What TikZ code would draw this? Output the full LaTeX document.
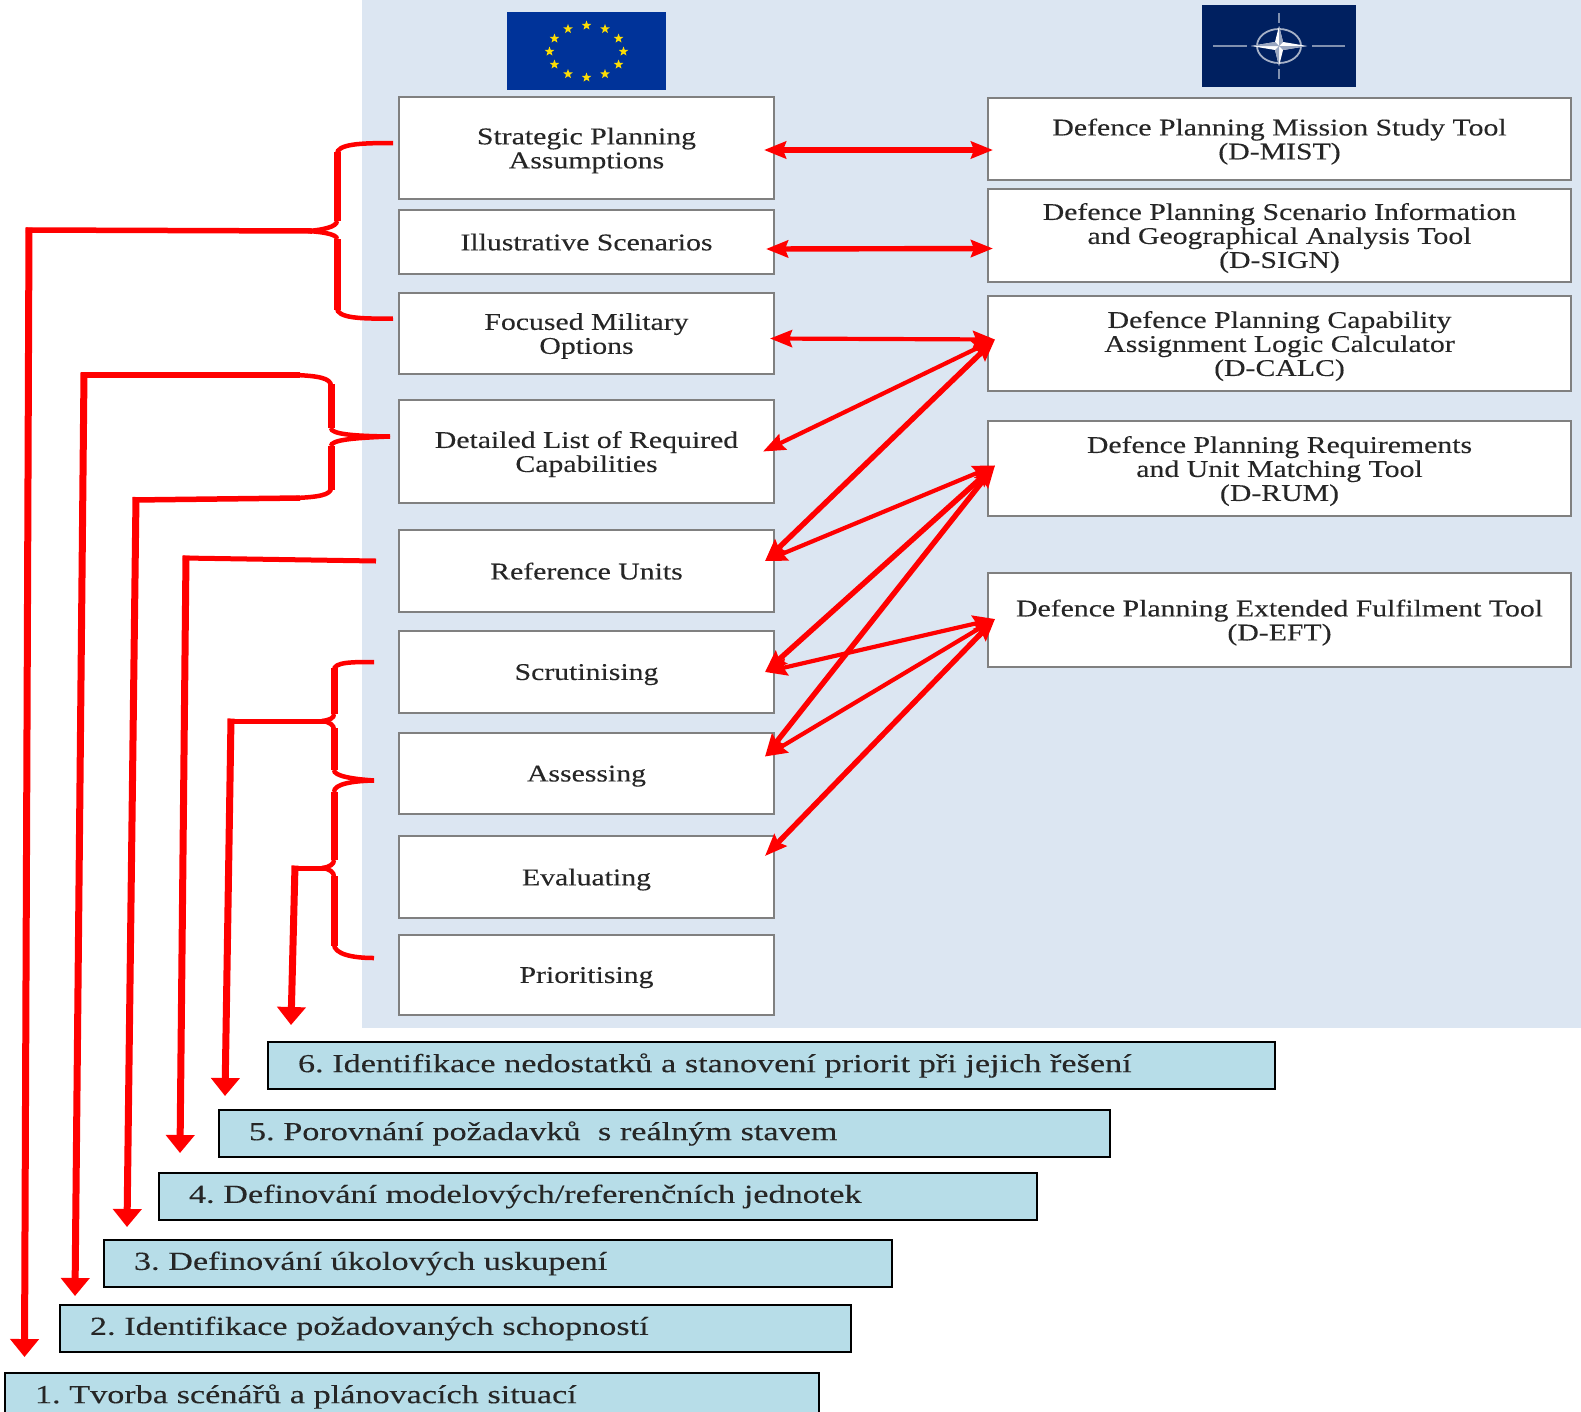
\documentclass[tikz,border=0pt]{standalone}
\usepackage{fontspec}
\setmainfont[FakeStretch=1.24,FakeBold=0.2]{Liberation Serif}
\newfontfamily\barfont[FakeStretch=1.315,FakeBold=0.2]{Liberation Serif}
\usetikzlibrary{positioning, arrows.meta, shapes.geometric}
\definecolor{planbg}{HTML}{DCE6F2}
\definecolor{stagefill}{HTML}{B7DDE8}
\definecolor{euflag}{HTML}{003399}
\definecolor{natoflag}{HTML}{002060}
\definecolor{textgrey}{HTML}{262626}
\begin{document}
\frenchspacing
\begin{tikzpicture}
		[
		x=1pt, y=-1pt,
		font=\fontsize{24}{24}\selectfont,
		text=textgrey,
		block/.style ={rectangle, draw=black!50, fill=white, line width=1.8pt, outer sep=0pt, inner sep=0pt, text depth=0pt, minimum width=375pt, align=center},
		tool/.style ={rectangle, draw=black!50, fill=white, line width=1.8pt, outer sep=0pt, inner sep=0pt, text depth=0pt, minimum width=583pt, align=center},
		stagebar/.style ={rectangle, draw=black, fill=stagefill, line width=1.5pt, outer sep=0pt, inner sep=0pt, anchor=north west, minimum height=47pt, align=left, font=\barfont\fontsize{26}{26}\selectfont},
		both/.style ={{Stealth[length=22pt, width=17pt, inset=3pt]}-{Stealth[length=22pt, width=17pt, inset=3pt]}, red, line width=4.2pt},
		bothw/.style ={both, line width=5.4pt},
		brace/.style ={red, line width=4.5pt},
		stem/.style ={red, line width=7pt},
		lead/.style ={-{Triangle[length=18pt, width=28pt]}, red, line width=7pt}
		]
		\clip (0,0) rectangle (1581,1411);
		\fill[planbg] (362,0) rectangle (1581,1028);
		% flags
		\fill[euflag] (507,12) rectangle (666,90);
		\foreach \a in {0,30,...,330}
			\node[star, star points=5, star point ratio=2.4, fill=yellow!80!orange, inner sep=0pt, minimum size=10pt] at ({586.5+37*cos(\a)},{51.5+26*sin(\a)}) {};
		\fill[natoflag] (1202,5) rectangle (1356,87);
		\draw[white!50!natoflag, line width=2pt] (1213,46) -- (1247,46) (1312,46) -- (1345,46) (1279,13) -- (1279,23) (1279,69) -- (1279,79);
		\draw[white!65!natoflag, line width=1.8pt] (1279,46) ellipse [x radius=22, y radius=17];
		\fill[white] (1279,26) -- (1283,42) -- (1307,46) -- (1283,50) -- (1279,66) -- (1275,50) -- (1251,46) -- (1275,42) -- cycle;
		\fill[white!60!natoflag] (1279,46) -- (1279,26) -- (1283,42) -- cycle (1279,46) -- (1307,46) -- (1283,50) -- cycle (1279,46) -- (1279,66) -- (1275,50) -- cycle (1279,46) -- (1251,46) -- (1275,42) -- cycle;
		% left column
		\node (spa) [block, minimum height=102pt] at (586.5,148) {Strategic Planning\\Assumptions};
		\node[below=11pt of spa] (scen) [block, minimum height=64pt] {Illustrative Scenarios};
		\node[below=19pt of scen] (fmo) [block, minimum height=81pt] {Focused Military\\Options};
		\node[below=26pt of fmo] (dlrc) [block, minimum height=103pt] {Detailed List of Required\\Capabilities};
		\node[below=27pt of dlrc] (units) [block, minimum height=82pt] {Reference Units};
		\node[below=19pt of units] (scrut) [block, minimum height=82pt] {Scrutinising};
		\node[below=20pt of scrut] (assess) [block, minimum height=81pt] {Assessing};
		\node[below=22pt of assess] (eval) [block, minimum height=82pt] {Evaluating};
		\node[below=17pt of eval] (prio) [block, minimum height=80pt] {Prioritising};
		% right column
		\node (mist) [tool, minimum height=82pt] at (1279.5,139) {Defence Planning Mission Study Tool\\(D-MIST)};
		\node[below=9pt of mist] (sign) [tool, minimum height=93pt] {Defence Planning Scenario Information\\and Geographical Analysis Tool\\(D-SIGN)};
		\node[below=14pt of sign] (calc) [tool, minimum height=95pt] {Defence Planning Capability\\Assignment Logic Calculator\\(D-CALC)};
		\node[below=30pt of calc] (rum) [tool, minimum height=95pt] {Defence Planning Requirements\\and Unit Matching Tool\\(D-RUM)};
		\node[below=57pt of rum] (eft) [tool, minimum height=94pt] {Defence Planning Extended Fulfilment Tool\\(D-EFT)};
		% stages
		\node (s6) [stagebar, text width=1007pt] at (268,1042) {\hspace*{30pt}6. Identifikace nedostatků a stanovení priorit při jejich řešení};
		\node (s5) [stagebar, text width=891pt] at (219,1110) {\hspace*{30pt}5. Porovnání požadavků\ \ s reálným stavem};
		\node (s4) [stagebar, text width=878pt] at (159,1173) {\hspace*{30pt}4. Definování modelových/referenčních jednotek};
		\node (s3) [stagebar, text width=788pt] at (104,1240) {\hspace*{30pt}3. Definování úkolových uskupení};
		\node (s2) [stagebar, text width=791pt] at (60,1305) {\hspace*{30pt}2. Identifikace požadovaných schopností};
		\node (s1) [stagebar, text width=814pt] at (5,1373) {\hspace*{30pt}1. Tvorba scénářů a plánovacích situací};
		% tips of the arrows
		\coordinate (spa e) at ([xshift=-10pt,yshift=-2pt]spa.east);
		\coordinate (mist w) at ([xshift=5pt,yshift=-11pt]mist.west);
		\coordinate (scen e) at ([xshift=-8pt,yshift=-7pt]scen.east);
		\coordinate (sign w) at ([xshift=5pt,yshift=-13pt]sign.west);
		\coordinate (fmo e) at ([xshift=-4pt,yshift=-5pt]fmo.east);
		\coordinate (dlrc e) at ([xshift=-11pt,yshift=0pt]dlrc.east);
		\coordinate (units e) at ([xshift=-9pt,yshift=10pt]units.east);
		\coordinate (scrut e) at ([xshift=-9pt,yshift=0pt]scrut.east);
		\coordinate (assess e) at ([xshift=-9pt,yshift=17pt]assess.east);
		\coordinate (eval e) at ([xshift=-9pt,yshift=21pt]eval.east);
		\coordinate (calc w) at ([xshift=7pt,yshift=4pt]calc.west);
		\coordinate (rum w) at ([xshift=7pt,yshift=3pt]rum.west);
		\coordinate (eft w) at ([xshift=7pt,yshift=1pt]eft.west);
		\draw[bothw] (spa e) -- (mist w);
		\draw[bothw] (scen e) -- (sign w);
		\draw[both] (fmo e) -- (calc w);
		\draw[both] (dlrc e) -- (calc w);
		\draw[bothw] (units e) -- (calc w);
		\draw[both] (units e) -- (rum w);
		\draw[bothw] (scrut e) -- (rum w);
		\draw[both] (scrut e) -- (eft w);
		\draw[bothw] (assess e) -- (rum w);
		\draw[both] (assess e) -- (eft w);
		\draw[bothw] (eval e) -- (eft w);
		% free ends of the braces
		\coordinate (b1 top) at ([xshift=-6pt,yshift=5pt]spa.west);
		\coordinate (b1 bot) at ([xshift=-6pt,yshift=15pt]fmo.west);
		\coordinate (b2 tip) at ([xshift=-9pt,yshift=15pt]dlrc.west);
		\coordinate (b3 tip) at ([xshift=-23pt,yshift=10pt]units.west);
		\coordinate (b4 top) at ([xshift=-25pt,yshift=10pt]scrut.west);
		\coordinate (b4 tip) at ([xshift=-25pt,yshift=-7pt]assess.west);
		\coordinate (b4 bot) at ([xshift=-25pt,yshift=17pt]prio.west);
		% ends of the long arrows
		\coordinate (a1) at ([xshift=19.5pt,yshift=16pt]s1.north west);
		\coordinate (a2) at ([xshift=15pt,yshift=9pt]s2.north west);
		\coordinate (a3) at ([xshift=23pt,yshift=13pt]s3.north west);
		\coordinate (a4) at ([xshift=21pt,yshift=20pt]s4.north west);
		\coordinate (a5) at ([xshift=6pt,yshift=14pt]s5.north west);
		\coordinate (a6) at ([xshift=23pt,yshift=17pt]s6.north west);
		% first brace
		\draw[brace] (b1 top) .. controls (360,143) and (337,144) .. (337,154);
		\draw[brace] (b1 bot) .. controls (360,319) and (337,318) .. (337,308);
		\draw[stem] (337,152) -- (337,221) (337,239) -- (337,310);
		\draw[brace] (337,221) .. controls (337,227) and (322,230) .. (308,231);
		\draw[brace] (337,239) .. controls (337,234) and (322,232) .. (308,231);
		\draw[brace, line width=5.5pt] (312,231) -- (26,230);
		\draw[lead] (29,227.5) -- (a1);
		% second brace
		\draw[brace, line width=5.5pt] (300,375) -- (81,375);
		\draw[lead] (84,372.5) -- (a2);
		\draw[brace] (296,375) .. controls (318,376) and (331,378) .. (331,386);
		\draw[brace] (296,498) .. controls (318,497) and (331,495) .. (331,488);
		\draw[stem] (331,384) -- (331,428) (331,446) -- (331,490);
		\draw[brace] (331,428) .. controls (331,434) and (352,436) .. (b2 tip);
		\draw[brace] (331,446) .. controls (331,440) and (352,438) .. (b2 tip);
		\draw[brace, line width=5.5pt] (300,498) -- (133,500);
		\draw[lead] (136,497) -- (a3);
		% reference units
		\draw[brace, line width=5pt] (b3 tip) -- (183,558);
		\draw[lead] (186,555.5) -- (a4);
		% third brace
		\draw[brace] (b4 top) .. controls (352,662) and (334,662) .. (334,670);
		\draw[stem] (334,668) -- (334,714) (334,728) -- (334,770) (334,792) -- (334,860) (334,876) -- (334,946);
		\draw[brace] (334,714) .. controls (334,718) and (330,720) .. (322,721);
		\draw[brace, line width=5pt] (326,721) -- (228,721);
		\draw[lead] (231,718.5) -- (a5);
		\draw[brace] (322,721) .. controls (330,722) and (334,725) .. (334,730);
		\draw[brace] (334,770) .. controls (334,776) and (352,779) .. (b4 tip);
		\draw[brace] (b4 tip) .. controls (352,781) and (334,784) .. (334,792);
		\draw[brace] (334,860) .. controls (334,864) and (330,867) .. (322,868);
		\draw[brace, line width=5pt] (326,868) -- (292,868);
		\draw[lead] (295,865.5) -- (a6);
		\draw[brace] (322,868) .. controls (330,869) and (334,872) .. (334,877);
		\draw[brace] (334,944) .. controls (334,954) and (352,958) .. (b4 bot);
	\end{tikzpicture}
\end{document}
